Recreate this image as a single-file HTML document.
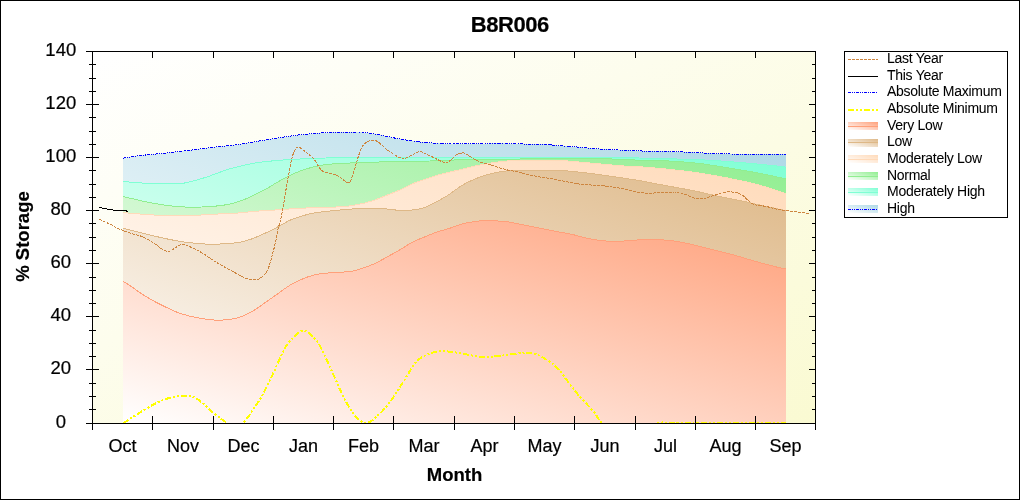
<!DOCTYPE html>
<html><head><meta charset="utf-8"><title>B8R006</title>
<style>html,body{margin:0;padding:0;background:#fff;}svg{display:block;}</style>
</head><body>
<svg width="1020" height="500" viewBox="0 0 1020 500">
<defs>
<linearGradient id="gbg" x1="0" y1="0" x2="1" y2="1"><stop offset="0" stop-color="#FFFFFF"/><stop offset="1" stop-color="#FAFAD2"/></linearGradient>
<linearGradient id="ghigh" x1="0" y1="1" x2="1" y2="0"><stop offset="0" stop-color="#FFFFFF"/><stop offset="1" stop-color="#ADD8E6"/></linearGradient>
<linearGradient id="gmodhigh" x1="0" y1="1" x2="1" y2="0"><stop offset="0" stop-color="#FFFFFF"/><stop offset="1" stop-color="#7FFFD4"/></linearGradient>
<linearGradient id="gnormal" x1="0" y1="1" x2="1" y2="0"><stop offset="0" stop-color="#FFFFFF"/><stop offset="1" stop-color="#90EE90"/></linearGradient>
<linearGradient id="gmodlow" x1="0" y1="1" x2="1" y2="0"><stop offset="0" stop-color="#FFFFFF"/><stop offset="1" stop-color="#FFDAB9"/></linearGradient>
<linearGradient id="glow" x1="0" y1="1" x2="1" y2="0"><stop offset="0" stop-color="#FFFFFF"/><stop offset="1" stop-color="#DEB887"/></linearGradient>
<linearGradient id="gverylow" x1="0" y1="1" x2="1" y2="0"><stop offset="0" stop-color="#FFFFFF"/><stop offset="1" stop-color="#FFA07A"/></linearGradient>
<clipPath id="cp"><rect x="93" y="52" width="722" height="371"/></clipPath>
</defs>
<rect x="0" y="0" width="1020" height="500" fill="#FFFFFF"/>
<rect x="93" y="52" width="722" height="371" fill="url(#gbg)"/>
<g clip-path="url(#cp)">
<path d="M123.00,158.20 C126.17,157.73 134.83,156.27 142.00,155.40 C149.17,154.53 158.00,153.87 166.00,153.00 C174.00,152.13 182.00,151.17 190.00,150.20 C198.00,149.23 206.00,148.13 214.00,147.20 C222.00,146.27 231.33,145.50 238.00,144.60 C244.67,143.70 247.33,142.90 254.00,141.80 C260.67,140.70 270.00,139.20 278.00,138.00 C286.00,136.80 293.00,135.53 302.00,134.60 C311.00,133.67 322.33,132.77 332.00,132.40 C341.67,132.03 353.67,132.25 360.00,132.40 C366.33,132.55 366.33,132.82 370.00,133.30 C373.67,133.78 377.67,134.47 382.00,135.30 C386.33,136.13 391.33,137.42 396.00,138.30 C400.67,139.18 405.17,139.88 410.00,140.60 C414.83,141.32 420.00,142.15 425.00,142.60 C430.00,143.05 435.50,143.08 440.00,143.30 C444.50,143.52 448.33,143.83 452.00,143.90 C455.67,143.97 455.67,143.77 462.00,143.70 C468.33,143.63 481.33,143.52 490.00,143.50 C498.67,143.48 507.33,143.47 514.00,143.60 C520.67,143.73 524.33,144.13 530.00,144.30 C535.67,144.47 543.67,144.40 548.00,144.60 C552.33,144.80 552.33,145.18 556.00,145.50 C559.67,145.82 566.00,146.20 570.00,146.50 C574.00,146.80 576.33,146.98 580.00,147.30 C583.67,147.62 587.33,148.03 592.00,148.40 C596.67,148.77 601.67,149.15 608.00,149.50 C614.33,149.85 623.83,150.23 630.00,150.50 C636.17,150.77 638.67,150.95 645.00,151.10 C651.33,151.25 660.50,151.20 668.00,151.40 C675.50,151.60 682.67,151.97 690.00,152.30 C697.33,152.63 705.33,153.12 712.00,153.40 C718.67,153.68 717.67,153.87 730.00,154.00 C742.33,154.13 776.67,154.17 786.00,154.20 L786.00,423.00 L123.00,423.00 Z" fill="url(#ghigh)" stroke="none" shape-rendering="crispEdges"/>
<path d="M123.00,181.40 C124.57,181.55 128.63,182.00 132.40,182.30 C136.17,182.60 140.17,183.02 145.60,183.20 C151.03,183.38 158.70,183.40 165.00,183.40 C171.30,183.40 178.23,183.73 183.40,183.20 C188.57,182.67 191.90,181.30 196.00,180.20 C200.10,179.10 204.00,177.93 208.00,176.60 C212.00,175.27 216.00,173.60 220.00,172.20 C224.00,170.80 226.33,169.70 232.00,168.20 C237.67,166.70 246.33,164.50 254.00,163.20 C261.67,161.90 270.00,161.12 278.00,160.40 C286.00,159.68 294.00,159.30 302.00,158.90 C310.00,158.50 318.00,158.17 326.00,158.00 C334.00,157.83 343.67,157.93 350.00,157.90 C356.33,157.87 355.67,157.88 364.00,157.80 C372.33,157.72 387.00,157.47 400.00,157.40 C413.00,157.33 422.00,157.43 442.00,157.40 C462.00,157.37 500.33,157.25 520.00,157.20 C539.67,157.15 546.00,157.00 560.00,157.10 C574.00,157.20 590.83,157.65 604.00,157.80 C617.17,157.95 626.83,157.80 639.00,158.00 C651.17,158.20 666.83,158.70 677.00,159.00 C687.17,159.30 693.83,159.55 700.00,159.80 C706.17,160.05 709.00,160.18 714.00,160.50 C719.00,160.82 724.00,161.22 730.00,161.70 C736.00,162.18 743.33,162.80 750.00,163.40 C756.67,164.00 764.00,164.68 770.00,165.30 C776.00,165.92 783.33,166.80 786.00,167.10 L786.00,423.00 L123.00,423.00 Z" fill="url(#gmodhigh)" stroke="none" shape-rendering="crispEdges"/>
<path d="M123.00,181.40 C124.57,181.55 128.63,182.00 132.40,182.30 C136.17,182.60 140.17,183.02 145.60,183.20 C151.03,183.38 158.70,183.40 165.00,183.40 C171.30,183.40 178.23,183.73 183.40,183.20 C188.57,182.67 191.90,181.30 196.00,180.20 C200.10,179.10 204.00,177.93 208.00,176.60 C212.00,175.27 216.00,173.60 220.00,172.20 C224.00,170.80 226.33,169.70 232.00,168.20 C237.67,166.70 246.33,164.50 254.00,163.20 C261.67,161.90 270.00,161.12 278.00,160.40 C286.00,159.68 294.00,159.30 302.00,158.90 C310.00,158.50 318.00,158.17 326.00,158.00 C334.00,157.83 343.67,157.93 350.00,157.90 C356.33,157.87 355.67,157.88 364.00,157.80 C372.33,157.72 387.00,157.47 400.00,157.40 C413.00,157.33 422.00,157.43 442.00,157.40 C462.00,157.37 500.33,157.25 520.00,157.20 C539.67,157.15 546.00,157.00 560.00,157.10 C574.00,157.20 590.83,157.65 604.00,157.80 C617.17,157.95 626.83,157.80 639.00,158.00 C651.17,158.20 666.83,158.70 677.00,159.00 C687.17,159.30 693.83,159.55 700.00,159.80 C706.17,160.05 709.00,160.18 714.00,160.50 C719.00,160.82 724.00,161.22 730.00,161.70 C736.00,162.18 743.33,162.80 750.00,163.40 C756.67,164.00 764.00,164.68 770.00,165.30 C776.00,165.92 783.33,166.80 786.00,167.10" fill="none" stroke="#7FFFD4" stroke-width="1" shape-rendering="crispEdges"/>
<path d="M123.00,196.50 C125.50,197.08 132.83,198.85 138.00,200.00 C143.17,201.15 147.33,202.30 154.00,203.40 C160.67,204.50 170.00,206.00 178.00,206.60 C186.00,207.20 194.00,207.30 202.00,207.00 C210.00,206.70 219.33,205.90 226.00,204.80 C232.67,203.70 237.33,202.03 242.00,200.40 C246.67,198.77 250.00,196.90 254.00,195.00 C258.00,193.10 262.00,191.20 266.00,189.00 C270.00,186.80 274.00,184.07 278.00,181.80 C282.00,179.53 286.00,177.30 290.00,175.40 C294.00,173.50 298.00,171.83 302.00,170.40 C306.00,168.97 310.00,167.77 314.00,166.80 C318.00,165.83 322.00,165.13 326.00,164.60 C330.00,164.07 334.00,163.87 338.00,163.60 C342.00,163.33 344.33,163.23 350.00,163.00 C355.67,162.77 363.67,162.45 372.00,162.20 C380.33,161.95 390.33,161.70 400.00,161.50 C409.67,161.30 420.00,161.28 430.00,161.00 C440.00,160.72 451.67,160.10 460.00,159.80 C468.33,159.50 470.00,159.33 480.00,159.20 C490.00,159.07 506.67,159.07 520.00,159.00 C533.33,158.93 546.00,158.83 560.00,158.80 C574.00,158.77 590.67,158.57 604.00,158.80 C617.33,159.03 629.17,159.83 640.00,160.20 C650.83,160.57 659.17,160.47 669.00,161.00 C678.83,161.53 689.17,162.25 699.00,163.40 C708.83,164.55 718.17,166.30 728.00,167.90 C737.83,169.50 748.33,171.17 758.00,173.00 C767.67,174.83 781.33,177.92 786.00,178.90 L786.00,423.00 L123.00,423.00 Z" fill="url(#gnormal)" stroke="none" shape-rendering="crispEdges"/>
<path d="M123.00,196.50 C125.50,197.08 132.83,198.85 138.00,200.00 C143.17,201.15 147.33,202.30 154.00,203.40 C160.67,204.50 170.00,206.00 178.00,206.60 C186.00,207.20 194.00,207.30 202.00,207.00 C210.00,206.70 219.33,205.90 226.00,204.80 C232.67,203.70 237.33,202.03 242.00,200.40 C246.67,198.77 250.00,196.90 254.00,195.00 C258.00,193.10 262.00,191.20 266.00,189.00 C270.00,186.80 274.00,184.07 278.00,181.80 C282.00,179.53 286.00,177.30 290.00,175.40 C294.00,173.50 298.00,171.83 302.00,170.40 C306.00,168.97 310.00,167.77 314.00,166.80 C318.00,165.83 322.00,165.13 326.00,164.60 C330.00,164.07 334.00,163.87 338.00,163.60 C342.00,163.33 344.33,163.23 350.00,163.00 C355.67,162.77 363.67,162.45 372.00,162.20 C380.33,161.95 390.33,161.70 400.00,161.50 C409.67,161.30 420.00,161.28 430.00,161.00 C440.00,160.72 451.67,160.10 460.00,159.80 C468.33,159.50 470.00,159.33 480.00,159.20 C490.00,159.07 506.67,159.07 520.00,159.00 C533.33,158.93 546.00,158.83 560.00,158.80 C574.00,158.77 590.67,158.57 604.00,158.80 C617.33,159.03 629.17,159.83 640.00,160.20 C650.83,160.57 659.17,160.47 669.00,161.00 C678.83,161.53 689.17,162.25 699.00,163.40 C708.83,164.55 718.17,166.30 728.00,167.90 C737.83,169.50 748.33,171.17 758.00,173.00 C767.67,174.83 781.33,177.92 786.00,178.90" fill="none" stroke="#90EE90" stroke-width="1" shape-rendering="crispEdges"/>
<path d="M123.00,212.60 C126.17,212.87 136.83,213.80 142.00,214.20 C147.17,214.60 149.00,214.73 154.00,215.00 C159.00,215.27 166.00,215.70 172.00,215.80 C178.00,215.90 183.00,215.87 190.00,215.60 C197.00,215.33 206.00,214.63 214.00,214.20 C222.00,213.77 231.33,213.47 238.00,213.00 C244.67,212.53 247.33,211.93 254.00,211.40 C260.67,210.87 270.00,210.33 278.00,209.80 C286.00,209.27 294.00,208.60 302.00,208.20 C310.00,207.80 319.00,207.67 326.00,207.40 C333.00,207.13 339.67,206.90 344.00,206.60 C348.33,206.30 348.67,206.17 352.00,205.60 C355.33,205.03 360.00,204.20 364.00,203.20 C368.00,202.20 372.00,201.00 376.00,199.60 C380.00,198.20 384.00,196.40 388.00,194.80 C392.00,193.20 396.00,191.80 400.00,190.00 C404.00,188.20 408.00,185.70 412.00,184.00 C416.00,182.30 420.00,181.20 424.00,179.80 C428.00,178.40 432.00,176.80 436.00,175.60 C440.00,174.40 443.67,173.67 448.00,172.60 C452.33,171.53 457.67,170.27 462.00,169.20 C466.33,168.13 470.00,167.10 474.00,166.20 C478.00,165.30 482.00,164.50 486.00,163.80 C490.00,163.10 493.67,162.50 498.00,162.00 C502.33,161.50 501.67,161.00 512.00,160.80 C522.33,160.60 550.00,160.70 560.00,160.80 C570.00,160.90 567.00,161.03 572.00,161.40 C577.00,161.77 584.00,162.47 590.00,163.00 C596.00,163.53 602.00,164.07 608.00,164.60 C614.00,165.13 620.67,165.83 626.00,166.20 C631.33,166.57 632.83,166.28 640.00,166.80 C647.17,167.32 659.17,168.27 669.00,169.30 C678.83,170.33 689.17,171.53 699.00,173.00 C708.83,174.47 718.17,176.13 728.00,178.10 C737.83,180.07 748.33,182.22 758.00,184.80 C767.67,187.38 781.33,192.13 786.00,193.60 L786.00,423.00 L123.00,423.00 Z" fill="url(#gmodlow)" stroke="none" shape-rendering="crispEdges"/>
<path d="M123.00,212.60 C126.17,212.87 136.83,213.80 142.00,214.20 C147.17,214.60 149.00,214.73 154.00,215.00 C159.00,215.27 166.00,215.70 172.00,215.80 C178.00,215.90 183.00,215.87 190.00,215.60 C197.00,215.33 206.00,214.63 214.00,214.20 C222.00,213.77 231.33,213.47 238.00,213.00 C244.67,212.53 247.33,211.93 254.00,211.40 C260.67,210.87 270.00,210.33 278.00,209.80 C286.00,209.27 294.00,208.60 302.00,208.20 C310.00,207.80 319.00,207.67 326.00,207.40 C333.00,207.13 339.67,206.90 344.00,206.60 C348.33,206.30 348.67,206.17 352.00,205.60 C355.33,205.03 360.00,204.20 364.00,203.20 C368.00,202.20 372.00,201.00 376.00,199.60 C380.00,198.20 384.00,196.40 388.00,194.80 C392.00,193.20 396.00,191.80 400.00,190.00 C404.00,188.20 408.00,185.70 412.00,184.00 C416.00,182.30 420.00,181.20 424.00,179.80 C428.00,178.40 432.00,176.80 436.00,175.60 C440.00,174.40 443.67,173.67 448.00,172.60 C452.33,171.53 457.67,170.27 462.00,169.20 C466.33,168.13 470.00,167.10 474.00,166.20 C478.00,165.30 482.00,164.50 486.00,163.80 C490.00,163.10 493.67,162.50 498.00,162.00 C502.33,161.50 501.67,161.00 512.00,160.80 C522.33,160.60 550.00,160.70 560.00,160.80 C570.00,160.90 567.00,161.03 572.00,161.40 C577.00,161.77 584.00,162.47 590.00,163.00 C596.00,163.53 602.00,164.07 608.00,164.60 C614.00,165.13 620.67,165.83 626.00,166.20 C631.33,166.57 632.83,166.28 640.00,166.80 C647.17,167.32 659.17,168.27 669.00,169.30 C678.83,170.33 689.17,171.53 699.00,173.00 C708.83,174.47 718.17,176.13 728.00,178.10 C737.83,180.07 748.33,182.22 758.00,184.80 C767.67,187.38 781.33,192.13 786.00,193.60" fill="none" stroke="#FFDAB9" stroke-width="1" shape-rendering="crispEdges"/>
<path d="M123.00,228.30 C126.17,229.08 134.83,231.27 142.00,233.00 C149.17,234.73 159.00,237.20 166.00,238.70 C173.00,240.20 178.00,241.15 184.00,242.00 C190.00,242.85 197.00,243.40 202.00,243.80 C207.00,244.20 210.00,244.45 214.00,244.40 C218.00,244.35 222.00,243.80 226.00,243.50 C230.00,243.20 233.93,243.28 238.00,242.60 C242.07,241.92 245.73,241.03 250.40,239.40 C255.07,237.77 261.40,234.90 266.00,232.80 C270.60,230.70 274.00,228.90 278.00,226.80 C282.00,224.70 286.00,222.00 290.00,220.20 C294.00,218.40 298.00,217.20 302.00,216.00 C306.00,214.80 310.00,213.77 314.00,213.00 C318.00,212.23 321.67,211.90 326.00,211.40 C330.33,210.90 334.50,210.47 340.00,210.00 C345.50,209.53 352.00,208.83 359.00,208.60 C366.00,208.37 375.57,208.33 382.00,208.60 C388.43,208.87 392.80,209.93 397.60,210.20 C402.40,210.47 406.40,210.60 410.80,210.20 C415.20,209.80 419.80,209.17 424.00,207.80 C428.20,206.43 432.00,204.10 436.00,202.00 C440.00,199.90 443.67,197.97 448.00,195.20 C452.33,192.43 457.67,188.03 462.00,185.40 C466.33,182.77 470.00,181.13 474.00,179.40 C478.00,177.67 482.00,176.20 486.00,175.00 C490.00,173.80 494.00,172.93 498.00,172.20 C502.00,171.47 506.00,170.93 510.00,170.60 C514.00,170.27 516.00,170.23 522.00,170.20 C528.00,170.17 539.40,170.33 546.00,170.40 C552.60,170.47 556.87,170.40 561.60,170.60 C566.33,170.80 569.67,171.13 574.40,171.60 C579.13,172.07 584.40,172.70 590.00,173.40 C595.60,174.10 603.00,175.10 608.00,175.80 C613.00,176.50 616.00,177.00 620.00,177.60 C624.00,178.20 628.00,178.77 632.00,179.40 C636.00,180.03 640.00,180.67 644.00,181.40 C648.00,182.13 652.00,183.03 656.00,183.80 C660.00,184.57 664.00,185.27 668.00,186.00 C672.00,186.73 675.67,187.40 680.00,188.20 C684.33,189.00 687.67,189.47 694.00,190.80 C700.33,192.13 710.00,194.50 718.00,196.20 C726.00,197.90 734.00,199.30 742.00,201.00 C750.00,202.70 758.67,204.80 766.00,206.40 C773.33,208.00 782.67,209.90 786.00,210.60 L786.00,423.00 L123.00,423.00 Z" fill="url(#glow)" stroke="none" shape-rendering="crispEdges"/>
<path d="M123.00,228.30 C126.17,229.08 134.83,231.27 142.00,233.00 C149.17,234.73 159.00,237.20 166.00,238.70 C173.00,240.20 178.00,241.15 184.00,242.00 C190.00,242.85 197.00,243.40 202.00,243.80 C207.00,244.20 210.00,244.45 214.00,244.40 C218.00,244.35 222.00,243.80 226.00,243.50 C230.00,243.20 233.93,243.28 238.00,242.60 C242.07,241.92 245.73,241.03 250.40,239.40 C255.07,237.77 261.40,234.90 266.00,232.80 C270.60,230.70 274.00,228.90 278.00,226.80 C282.00,224.70 286.00,222.00 290.00,220.20 C294.00,218.40 298.00,217.20 302.00,216.00 C306.00,214.80 310.00,213.77 314.00,213.00 C318.00,212.23 321.67,211.90 326.00,211.40 C330.33,210.90 334.50,210.47 340.00,210.00 C345.50,209.53 352.00,208.83 359.00,208.60 C366.00,208.37 375.57,208.33 382.00,208.60 C388.43,208.87 392.80,209.93 397.60,210.20 C402.40,210.47 406.40,210.60 410.80,210.20 C415.20,209.80 419.80,209.17 424.00,207.80 C428.20,206.43 432.00,204.10 436.00,202.00 C440.00,199.90 443.67,197.97 448.00,195.20 C452.33,192.43 457.67,188.03 462.00,185.40 C466.33,182.77 470.00,181.13 474.00,179.40 C478.00,177.67 482.00,176.20 486.00,175.00 C490.00,173.80 494.00,172.93 498.00,172.20 C502.00,171.47 506.00,170.93 510.00,170.60 C514.00,170.27 516.00,170.23 522.00,170.20 C528.00,170.17 539.40,170.33 546.00,170.40 C552.60,170.47 556.87,170.40 561.60,170.60 C566.33,170.80 569.67,171.13 574.40,171.60 C579.13,172.07 584.40,172.70 590.00,173.40 C595.60,174.10 603.00,175.10 608.00,175.80 C613.00,176.50 616.00,177.00 620.00,177.60 C624.00,178.20 628.00,178.77 632.00,179.40 C636.00,180.03 640.00,180.67 644.00,181.40 C648.00,182.13 652.00,183.03 656.00,183.80 C660.00,184.57 664.00,185.27 668.00,186.00 C672.00,186.73 675.67,187.40 680.00,188.20 C684.33,189.00 687.67,189.47 694.00,190.80 C700.33,192.13 710.00,194.50 718.00,196.20 C726.00,197.90 734.00,199.30 742.00,201.00 C750.00,202.70 758.67,204.80 766.00,206.40 C773.33,208.00 782.67,209.90 786.00,210.60" fill="none" stroke="#DEB887" stroke-width="1" shape-rendering="crispEdges"/>
<path d="M123.00,281.40 C124.17,282.10 126.83,283.50 130.00,285.60 C133.17,287.70 138.00,291.40 142.00,294.00 C146.00,296.60 150.00,299.00 154.00,301.20 C158.00,303.40 162.00,305.30 166.00,307.20 C170.00,309.10 174.00,311.10 178.00,312.60 C182.00,314.10 186.00,315.20 190.00,316.20 C194.00,317.20 197.33,317.93 202.00,318.60 C206.67,319.27 213.00,320.13 218.00,320.20 C223.00,320.27 228.00,319.63 232.00,319.00 C236.00,318.37 238.33,317.83 242.00,316.40 C245.67,314.97 250.00,312.80 254.00,310.40 C258.00,308.00 262.00,304.80 266.00,302.00 C270.00,299.20 274.00,296.40 278.00,293.60 C282.00,290.80 286.00,287.60 290.00,285.20 C294.00,282.80 298.00,280.90 302.00,279.20 C306.00,277.50 310.00,276.00 314.00,275.00 C318.00,274.00 321.67,273.65 326.00,273.20 C330.33,272.75 335.67,272.63 340.00,272.30 C344.33,271.97 348.00,271.95 352.00,271.20 C356.00,270.45 360.00,269.17 364.00,267.80 C368.00,266.43 372.00,264.90 376.00,263.00 C380.00,261.10 384.00,258.60 388.00,256.40 C392.00,254.20 396.00,252.13 400.00,249.80 C404.00,247.47 408.00,244.50 412.00,242.40 C416.00,240.30 420.00,238.87 424.00,237.20 C428.00,235.53 431.67,233.90 436.00,232.40 C440.33,230.90 445.67,229.60 450.00,228.20 C454.33,226.80 458.00,225.10 462.00,224.00 C466.00,222.90 470.00,222.20 474.00,221.60 C478.00,221.00 482.00,220.50 486.00,220.40 C490.00,220.30 494.00,220.70 498.00,221.00 C502.00,221.30 506.00,221.60 510.00,222.20 C514.00,222.80 518.00,223.80 522.00,224.60 C526.00,225.40 530.00,226.20 534.00,227.00 C538.00,227.80 542.00,228.60 546.00,229.40 C550.00,230.20 553.67,230.97 558.00,231.80 C562.33,232.63 567.67,233.43 572.00,234.40 C576.33,235.37 580.00,236.70 584.00,237.60 C588.00,238.50 592.00,239.20 596.00,239.80 C600.00,240.40 604.00,240.97 608.00,241.20 C612.00,241.43 616.00,241.33 620.00,241.20 C624.00,241.07 628.00,240.67 632.00,240.40 C636.00,240.13 640.00,239.73 644.00,239.60 C648.00,239.47 651.67,239.45 656.00,239.60 C660.33,239.75 665.67,240.03 670.00,240.50 C674.33,240.97 678.00,241.65 682.00,242.40 C686.00,243.15 690.00,244.07 694.00,245.00 C698.00,245.93 702.00,247.00 706.00,248.00 C710.00,249.00 714.00,250.00 718.00,251.00 C722.00,252.00 726.00,252.93 730.00,254.00 C734.00,255.07 738.00,256.23 742.00,257.40 C746.00,258.57 750.00,259.87 754.00,261.00 C758.00,262.13 762.00,263.13 766.00,264.20 C770.00,265.27 774.67,266.60 778.00,267.40 C781.33,268.20 784.67,268.73 786.00,269.00 L786.00,423.00 L123.00,423.00 Z" fill="url(#gverylow)" stroke="none" shape-rendering="crispEdges"/>
<path d="M123.00,281.40 C124.17,282.10 126.83,283.50 130.00,285.60 C133.17,287.70 138.00,291.40 142.00,294.00 C146.00,296.60 150.00,299.00 154.00,301.20 C158.00,303.40 162.00,305.30 166.00,307.20 C170.00,309.10 174.00,311.10 178.00,312.60 C182.00,314.10 186.00,315.20 190.00,316.20 C194.00,317.20 197.33,317.93 202.00,318.60 C206.67,319.27 213.00,320.13 218.00,320.20 C223.00,320.27 228.00,319.63 232.00,319.00 C236.00,318.37 238.33,317.83 242.00,316.40 C245.67,314.97 250.00,312.80 254.00,310.40 C258.00,308.00 262.00,304.80 266.00,302.00 C270.00,299.20 274.00,296.40 278.00,293.60 C282.00,290.80 286.00,287.60 290.00,285.20 C294.00,282.80 298.00,280.90 302.00,279.20 C306.00,277.50 310.00,276.00 314.00,275.00 C318.00,274.00 321.67,273.65 326.00,273.20 C330.33,272.75 335.67,272.63 340.00,272.30 C344.33,271.97 348.00,271.95 352.00,271.20 C356.00,270.45 360.00,269.17 364.00,267.80 C368.00,266.43 372.00,264.90 376.00,263.00 C380.00,261.10 384.00,258.60 388.00,256.40 C392.00,254.20 396.00,252.13 400.00,249.80 C404.00,247.47 408.00,244.50 412.00,242.40 C416.00,240.30 420.00,238.87 424.00,237.20 C428.00,235.53 431.67,233.90 436.00,232.40 C440.33,230.90 445.67,229.60 450.00,228.20 C454.33,226.80 458.00,225.10 462.00,224.00 C466.00,222.90 470.00,222.20 474.00,221.60 C478.00,221.00 482.00,220.50 486.00,220.40 C490.00,220.30 494.00,220.70 498.00,221.00 C502.00,221.30 506.00,221.60 510.00,222.20 C514.00,222.80 518.00,223.80 522.00,224.60 C526.00,225.40 530.00,226.20 534.00,227.00 C538.00,227.80 542.00,228.60 546.00,229.40 C550.00,230.20 553.67,230.97 558.00,231.80 C562.33,232.63 567.67,233.43 572.00,234.40 C576.33,235.37 580.00,236.70 584.00,237.60 C588.00,238.50 592.00,239.20 596.00,239.80 C600.00,240.40 604.00,240.97 608.00,241.20 C612.00,241.43 616.00,241.33 620.00,241.20 C624.00,241.07 628.00,240.67 632.00,240.40 C636.00,240.13 640.00,239.73 644.00,239.60 C648.00,239.47 651.67,239.45 656.00,239.60 C660.33,239.75 665.67,240.03 670.00,240.50 C674.33,240.97 678.00,241.65 682.00,242.40 C686.00,243.15 690.00,244.07 694.00,245.00 C698.00,245.93 702.00,247.00 706.00,248.00 C710.00,249.00 714.00,250.00 718.00,251.00 C722.00,252.00 726.00,252.93 730.00,254.00 C734.00,255.07 738.00,256.23 742.00,257.40 C746.00,258.57 750.00,259.87 754.00,261.00 C758.00,262.13 762.00,263.13 766.00,264.20 C770.00,265.27 774.67,266.60 778.00,267.40 C781.33,268.20 784.67,268.73 786.00,269.00" fill="none" stroke="#FFA07A" stroke-width="1" shape-rendering="crispEdges"/>
<path d="M123.00,158.20 C126.17,157.73 134.83,156.27 142.00,155.40 C149.17,154.53 158.00,153.87 166.00,153.00 C174.00,152.13 182.00,151.17 190.00,150.20 C198.00,149.23 206.00,148.13 214.00,147.20 C222.00,146.27 231.33,145.50 238.00,144.60 C244.67,143.70 247.33,142.90 254.00,141.80 C260.67,140.70 270.00,139.20 278.00,138.00 C286.00,136.80 293.00,135.53 302.00,134.60 C311.00,133.67 322.33,132.77 332.00,132.40 C341.67,132.03 353.67,132.25 360.00,132.40 C366.33,132.55 366.33,132.82 370.00,133.30 C373.67,133.78 377.67,134.47 382.00,135.30 C386.33,136.13 391.33,137.42 396.00,138.30 C400.67,139.18 405.17,139.88 410.00,140.60 C414.83,141.32 420.00,142.15 425.00,142.60 C430.00,143.05 435.50,143.08 440.00,143.30 C444.50,143.52 448.33,143.83 452.00,143.90 C455.67,143.97 455.67,143.77 462.00,143.70 C468.33,143.63 481.33,143.52 490.00,143.50 C498.67,143.48 507.33,143.47 514.00,143.60 C520.67,143.73 524.33,144.13 530.00,144.30 C535.67,144.47 543.67,144.40 548.00,144.60 C552.33,144.80 552.33,145.18 556.00,145.50 C559.67,145.82 566.00,146.20 570.00,146.50 C574.00,146.80 576.33,146.98 580.00,147.30 C583.67,147.62 587.33,148.03 592.00,148.40 C596.67,148.77 601.67,149.15 608.00,149.50 C614.33,149.85 623.83,150.23 630.00,150.50 C636.17,150.77 638.67,150.95 645.00,151.10 C651.33,151.25 660.50,151.20 668.00,151.40 C675.50,151.60 682.67,151.97 690.00,152.30 C697.33,152.63 705.33,153.12 712.00,153.40 C718.67,153.68 717.67,153.87 730.00,154.00 C742.33,154.13 776.67,154.17 786.00,154.20" fill="none" stroke="#0000FF" stroke-width="1" stroke-dasharray="3,1,1,1,1,1" shape-rendering="crispEdges"/>
<path d="M123.50,423.00 C128.15,420.12 144.05,409.78 151.40,405.70 C158.75,401.62 162.50,400.15 167.60,398.50 C172.70,396.85 177.20,395.80 182.00,395.80 C186.80,395.80 191.00,395.50 196.40,398.50 C201.80,401.50 209.30,409.72 214.40,413.80 C219.50,417.88 223.57,420.63 227.00,423.00 C230.43,425.37 232.30,428.00 235.00,428.00 C237.70,428.00 240.03,426.27 243.20,423.00 C246.37,419.73 250.70,413.23 254.00,408.40 C257.30,403.57 259.87,399.70 263.00,394.00 C266.13,388.30 269.37,381.40 272.80,374.20 C276.23,367.00 280.60,356.50 283.60,350.80 C286.60,345.10 287.50,343.37 290.80,340.00 C294.10,336.63 299.20,330.60 303.40,330.60 C307.60,330.60 312.40,335.73 316.00,340.00 C319.60,344.27 322.00,350.20 325.00,356.20 C328.00,362.20 331.00,369.40 334.00,376.00 C337.00,382.60 340.00,389.80 343.00,395.80 C346.00,401.80 349.30,407.95 352.00,412.00 C354.70,416.05 356.80,418.27 359.20,420.10 C361.60,421.93 364.00,423.15 366.40,423.00 C368.80,422.85 370.00,422.23 373.60,419.20 C377.20,416.17 383.20,410.80 388.00,404.80 C392.80,398.80 397.90,390.10 402.40,383.20 C406.90,376.30 411.40,367.90 415.00,363.40 C418.60,358.90 421.00,358.00 424.00,356.20 C427.00,354.40 429.87,353.43 433.00,352.60 C436.13,351.77 438.47,351.13 442.80,351.20 C447.13,351.27 452.40,352.02 459.00,353.00 C465.60,353.98 475.50,356.63 482.40,357.10 C489.30,357.57 493.80,356.48 500.40,355.80 C507.00,355.12 516.60,353.38 522.00,353.00 C527.40,352.62 529.20,352.67 532.80,353.50 C536.40,354.33 539.40,355.45 543.60,358.00 C547.80,360.55 552.60,363.10 558.00,368.80 C563.40,374.50 570.00,385.00 576.00,392.20 C582.00,399.40 589.50,406.87 594.00,412.00 C598.50,417.13 597.00,419.67 603.00,423.00 C609.00,426.33 620.67,432.00 630.00,432.00 C639.33,432.00 650.67,424.50 659.00,423.00 C667.33,421.50 658.83,423.00 680.00,423.00 C701.17,423.00 768.33,423.00 786.00,423.00" fill="none" stroke="#FFFF00" stroke-width="2" stroke-dasharray="6,2,2,2,2,2" shape-rendering="crispEdges"/>
<path d="M99.20,219.30 C101.17,220.18 107.87,223.08 111.00,224.60 C114.13,226.12 114.83,227.00 118.00,228.40 C121.17,229.80 126.00,231.63 130.00,233.00 C134.00,234.37 138.00,234.90 142.00,236.60 C146.00,238.30 150.60,241.10 154.00,243.20 C157.40,245.30 160.00,247.83 162.40,249.20 C164.80,250.57 166.60,251.40 168.40,251.40 C170.20,251.40 171.60,250.07 173.20,249.20 C174.80,248.33 176.30,247.03 178.00,246.20 C179.70,245.37 181.40,244.10 183.40,244.20 C185.40,244.30 186.90,245.37 190.00,246.80 C193.10,248.23 198.40,250.70 202.00,252.80 C205.60,254.90 208.27,257.28 211.60,259.40 C214.93,261.52 217.93,263.18 222.00,265.50 C226.07,267.82 231.57,271.02 236.00,273.30 C240.43,275.58 244.70,278.30 248.60,279.20 C252.50,280.10 256.25,280.23 259.40,278.70 C262.55,277.17 265.40,273.78 267.50,270.00 C269.60,266.22 270.55,261.10 272.00,256.00 C273.45,250.90 275.20,243.87 276.20,239.40 C277.20,234.93 277.30,232.30 278.00,229.20 C278.70,226.10 279.60,224.20 280.40,220.80 C281.20,217.40 282.10,212.60 282.80,208.80 C283.50,205.00 284.00,201.60 284.60,198.00 C285.20,194.40 285.77,190.87 286.40,187.20 C287.03,183.53 287.37,181.23 288.40,176.00 C289.43,170.77 291.03,160.60 292.60,155.80 C294.17,151.00 295.40,147.65 297.80,147.20 C300.20,146.75 304.27,151.07 307.00,153.10 C309.73,155.13 311.80,156.55 314.20,159.40 C316.60,162.25 318.70,167.87 321.40,170.20 C324.10,172.53 327.70,172.50 330.40,173.40 C333.10,174.30 334.75,174.10 337.60,175.60 C340.45,177.10 345.10,182.10 347.50,182.40 C349.90,182.70 350.35,181.23 352.00,177.40 C353.65,173.57 355.60,164.65 357.40,159.40 C359.20,154.15 360.70,149.05 362.80,145.90 C364.90,142.75 367.60,141.25 370.00,140.50 C372.40,139.75 374.20,139.75 377.20,141.40 C380.20,143.05 384.40,147.77 388.00,150.40 C391.60,153.03 395.80,155.93 398.80,157.20 C401.80,158.47 402.70,158.90 406.00,158.00 C409.30,157.10 415.30,152.47 418.60,151.80 C421.90,151.13 423.40,153.10 425.80,154.00 C428.20,154.90 429.87,155.77 433.00,157.20 C436.13,158.63 441.77,162.03 444.60,162.60 C447.43,163.17 448.50,161.47 450.00,160.60 C451.50,159.73 452.40,158.47 453.60,157.40 C454.80,156.33 455.80,154.93 457.20,154.20 C458.60,153.47 460.60,153.10 462.00,153.00 C463.40,152.90 463.60,152.60 465.60,153.60 C467.60,154.60 471.40,157.53 474.00,159.00 C476.60,160.47 478.60,161.50 481.20,162.40 C483.80,163.30 486.80,163.57 489.60,164.40 C492.40,165.23 494.60,166.37 498.00,167.40 C501.40,168.43 506.80,169.90 510.00,170.60 C513.20,171.30 514.20,170.93 517.20,171.60 C520.20,172.27 524.20,173.70 528.00,174.60 C531.80,175.50 536.00,176.30 540.00,177.00 C544.00,177.70 547.00,177.90 552.00,178.80 C557.00,179.70 564.67,181.43 570.00,182.40 C575.33,183.37 579.07,184.10 584.00,184.60 C588.93,185.10 594.60,184.97 599.60,185.40 C604.60,185.83 609.60,186.53 614.00,187.20 C618.40,187.87 622.00,188.55 626.00,189.40 C630.00,190.25 634.00,191.67 638.00,192.30 C642.00,192.93 646.00,193.18 650.00,193.20 C654.00,193.22 658.00,192.43 662.00,192.40 C666.00,192.37 670.67,192.87 674.00,193.00 C677.33,193.13 678.67,192.37 682.00,193.20 C685.33,194.03 690.40,197.10 694.00,198.00 C697.60,198.90 701.00,198.80 703.60,198.60 C706.20,198.40 707.60,197.40 709.60,196.80 C711.60,196.20 713.20,195.75 715.60,195.00 C718.00,194.25 720.80,192.75 724.00,192.30 C727.20,191.85 731.80,191.85 734.80,192.30 C737.80,192.75 739.80,193.65 742.00,195.00 C744.20,196.35 746.00,198.80 748.00,200.40 C750.00,202.00 751.00,203.60 754.00,204.60 C757.00,205.60 762.40,205.67 766.00,206.40 C769.60,207.13 772.27,208.30 775.60,209.00 C778.93,209.70 782.27,210.10 786.00,210.60 C789.73,211.10 794.17,211.52 798.00,212.00 C801.83,212.48 807.17,213.25 809.00,213.50" fill="none" stroke="#CD853F" stroke-width="1" stroke-dasharray="3,1" shape-rendering="crispEdges"/>
<path d="M99.20,207.40 C100.67,207.70 105.47,208.73 108.00,209.20 C110.53,209.67 111.73,210.00 114.40,210.20 C117.07,210.40 121.73,210.17 124.00,210.40 C126.27,210.63 127.33,211.40 128.00,211.60" fill="none" stroke="#000000" stroke-width="1" shape-rendering="crispEdges"/>
</g>
<path d="M86,51.5 H815.5 M86,423.5 H815.5 M92.5,51 V430 M815.5,51 V430 M86,423.5 H99 M809,423.5 H815 M89,409.5 H96 M812,409.5 H815 M89,396.5 H96 M812,396.5 H815 M89,383.5 H96 M812,383.5 H815 M86,369.5 H99 M809,369.5 H815 M89,356.5 H96 M812,356.5 H815 M89,343.5 H96 M812,343.5 H815 M89,330.5 H96 M812,330.5 H815 M86,316.5 H99 M809,316.5 H815 M89,303.5 H96 M812,303.5 H815 M89,290.5 H96 M812,290.5 H815 M89,277.5 H96 M812,277.5 H815 M86,263.5 H99 M809,263.5 H815 M89,250.5 H96 M812,250.5 H815 M89,237.5 H96 M812,237.5 H815 M89,223.5 H96 M812,223.5 H815 M86,210.5 H99 M809,210.5 H815 M89,197.5 H96 M812,197.5 H815 M89,184.5 H96 M812,184.5 H815 M89,170.5 H96 M812,170.5 H815 M86,157.5 H99 M809,157.5 H815 M89,144.5 H96 M812,144.5 H815 M89,131.5 H96 M812,131.5 H815 M89,117.5 H96 M812,117.5 H815 M86,104.5 H99 M809,104.5 H815 M89,91.5 H96 M812,91.5 H815 M89,78.5 H96 M812,78.5 H815 M89,64.5 H96 M812,64.5 H815 M86,51.5 H99 M809,51.5 H815 M152.5,416 V430 M152.5,52 V58 M213.5,416 V430 M213.5,52 V58 M273.5,416 V430 M273.5,52 V58 M333.5,416 V430 M333.5,52 V58 M393.5,416 V430 M393.5,52 V58 M454.5,416 V430 M454.5,52 V58 M514.5,416 V430 M514.5,52 V58 M574.5,416 V430 M574.5,52 V58 M635.5,416 V430 M635.5,52 V58 M695.5,416 V430 M695.5,52 V58 M755.5,416 V430 M755.5,52 V58" stroke="#000" stroke-width="1" fill="none"/>
<text x="60.8" y="427.5" font-family="Liberation Sans, Arial, sans-serif" stroke="#000" stroke-width="0.2" font-size="18.5" text-anchor="middle" fill="#000">0</text>
<text x="60.8" y="374.4" font-family="Liberation Sans, Arial, sans-serif" stroke="#000" stroke-width="0.2" font-size="18.5" text-anchor="middle" fill="#000">20</text>
<text x="60.8" y="321.4" font-family="Liberation Sans, Arial, sans-serif" stroke="#000" stroke-width="0.2" font-size="18.5" text-anchor="middle" fill="#000">40</text>
<text x="60.8" y="268.3" font-family="Liberation Sans, Arial, sans-serif" stroke="#000" stroke-width="0.2" font-size="18.5" text-anchor="middle" fill="#000">60</text>
<text x="60.8" y="215.2" font-family="Liberation Sans, Arial, sans-serif" stroke="#000" stroke-width="0.2" font-size="18.5" text-anchor="middle" fill="#000">80</text>
<text x="60.8" y="162.1" font-family="Liberation Sans, Arial, sans-serif" stroke="#000" stroke-width="0.2" font-size="18.5" text-anchor="middle" fill="#000">100</text>
<text x="60.8" y="109.1" font-family="Liberation Sans, Arial, sans-serif" stroke="#000" stroke-width="0.2" font-size="18.5" text-anchor="middle" fill="#000">120</text>
<text x="60.8" y="56.0" font-family="Liberation Sans, Arial, sans-serif" stroke="#000" stroke-width="0.2" font-size="18.5" text-anchor="middle" fill="#000">140</text>
<text x="122.5" y="452" font-family="Liberation Sans, Arial, sans-serif" stroke="#000" stroke-width="0.2" font-size="18" text-anchor="middle" fill="#000">Oct</text>
<text x="183.0" y="452" font-family="Liberation Sans, Arial, sans-serif" stroke="#000" stroke-width="0.2" font-size="18" text-anchor="middle" fill="#000">Nov</text>
<text x="243.5" y="452" font-family="Liberation Sans, Arial, sans-serif" stroke="#000" stroke-width="0.2" font-size="18" text-anchor="middle" fill="#000">Dec</text>
<text x="303.5" y="452" font-family="Liberation Sans, Arial, sans-serif" stroke="#000" stroke-width="0.2" font-size="18" text-anchor="middle" fill="#000">Jan</text>
<text x="363.5" y="452" font-family="Liberation Sans, Arial, sans-serif" stroke="#000" stroke-width="0.2" font-size="18" text-anchor="middle" fill="#000">Feb</text>
<text x="424.0" y="452" font-family="Liberation Sans, Arial, sans-serif" stroke="#000" stroke-width="0.2" font-size="18" text-anchor="middle" fill="#000">Mar</text>
<text x="484.5" y="452" font-family="Liberation Sans, Arial, sans-serif" stroke="#000" stroke-width="0.2" font-size="18" text-anchor="middle" fill="#000">Apr</text>
<text x="544.5" y="452" font-family="Liberation Sans, Arial, sans-serif" stroke="#000" stroke-width="0.2" font-size="18" text-anchor="middle" fill="#000">May</text>
<text x="605.0" y="452" font-family="Liberation Sans, Arial, sans-serif" stroke="#000" stroke-width="0.2" font-size="18" text-anchor="middle" fill="#000">Jun</text>
<text x="665.5" y="452" font-family="Liberation Sans, Arial, sans-serif" stroke="#000" stroke-width="0.2" font-size="18" text-anchor="middle" fill="#000">Jul</text>
<text x="725.5" y="452" font-family="Liberation Sans, Arial, sans-serif" stroke="#000" stroke-width="0.2" font-size="18" text-anchor="middle" fill="#000">Aug</text>
<text x="785.5" y="452" font-family="Liberation Sans, Arial, sans-serif" stroke="#000" stroke-width="0.2" font-size="18" text-anchor="middle" fill="#000">Sep</text>
<text x="509.8" y="32" font-family="Liberation Sans, Arial, sans-serif" stroke="#000" stroke-width="0.2" font-size="22" font-weight="bold" letter-spacing="-0.45" text-anchor="middle" fill="#000">B8R006</text>
<text x="454.5" y="481" font-family="Liberation Sans, Arial, sans-serif" stroke="#000" stroke-width="0.2" font-size="18.5" font-weight="bold" text-anchor="middle" fill="#000">Month</text>
<text transform="translate(28.5,236.5) rotate(-90)" x="0" y="0" font-family="Liberation Sans, Arial, sans-serif" stroke="#000" stroke-width="0.2" font-size="18.5" font-weight="bold" text-anchor="middle" fill="#000">% Storage</text>
<rect x="844.5" y="51.5" width="163" height="166" fill="#FFFFFF" stroke="#000" stroke-width="1"/>
<path d="M848,59.5 H878" stroke="#CD853F" stroke-width="1" stroke-dasharray="3,1" fill="none" shape-rendering="crispEdges"/>
<text x="887" y="63.0" font-family="Liberation Sans, Arial, sans-serif" stroke="#000" stroke-width="0.05" font-size="14" letter-spacing="-0.28" fill="#000">Last Year</text>
<path d="M848,76.5 H878" stroke="#000000" stroke-width="1" fill="none" shape-rendering="crispEdges"/>
<text x="887" y="80.0" font-family="Liberation Sans, Arial, sans-serif" stroke="#000" stroke-width="0.05" font-size="14" letter-spacing="-0.28" fill="#000">This Year</text>
<path d="M848,92.5 H878" stroke="#0000FF" stroke-width="1" stroke-dasharray="3,1,1,1,1,1" fill="none" shape-rendering="crispEdges"/>
<text x="887" y="96.0" font-family="Liberation Sans, Arial, sans-serif" stroke="#000" stroke-width="0.05" font-size="14" letter-spacing="-0.28" fill="#000">Absolute Maximum</text>
<path d="M848,110.0 H878" stroke="#FFFF00" stroke-width="2" stroke-dasharray="6,2,2,2,2,2" fill="none" shape-rendering="crispEdges"/>
<text x="887" y="113.0" font-family="Liberation Sans, Arial, sans-serif" stroke="#000" stroke-width="0.05" font-size="14" letter-spacing="-0.28" fill="#000">Absolute Minimum</text>
<rect x="848" y="122" width="30" height="8" fill="url(#gverylow)"/>
<path d="M848,126.5 H878" stroke="#FFA07A" stroke-width="1" fill="none" shape-rendering="crispEdges"/>
<text x="887" y="130.0" font-family="Liberation Sans, Arial, sans-serif" stroke="#000" stroke-width="0.05" font-size="14" letter-spacing="-0.28" fill="#000">Very Low</text>
<rect x="848" y="139" width="30" height="8" fill="url(#glow)"/>
<path d="M848,142.5 H878" stroke="#DEB887" stroke-width="1" fill="none" shape-rendering="crispEdges"/>
<text x="887" y="146.0" font-family="Liberation Sans, Arial, sans-serif" stroke="#000" stroke-width="0.05" font-size="14" letter-spacing="-0.28" fill="#000">Low</text>
<rect x="848" y="155" width="30" height="8" fill="url(#gmodlow)"/>
<path d="M848,159.5 H878" stroke="#FFDAB9" stroke-width="1" fill="none" shape-rendering="crispEdges"/>
<text x="887" y="163.0" font-family="Liberation Sans, Arial, sans-serif" stroke="#000" stroke-width="0.05" font-size="14" letter-spacing="-0.28" fill="#000">Moderately Low</text>
<rect x="848" y="172" width="30" height="8" fill="url(#gnormal)"/>
<path d="M848,176.5 H878" stroke="#90EE90" stroke-width="1" fill="none" shape-rendering="crispEdges"/>
<text x="887" y="180.0" font-family="Liberation Sans, Arial, sans-serif" stroke="#000" stroke-width="0.05" font-size="14" letter-spacing="-0.28" fill="#000">Normal</text>
<rect x="848" y="188" width="30" height="8" fill="url(#gmodhigh)"/>
<path d="M848,192.5 H878" stroke="#7FFFD4" stroke-width="1" fill="none" shape-rendering="crispEdges"/>
<text x="887" y="196.0" font-family="Liberation Sans, Arial, sans-serif" stroke="#000" stroke-width="0.05" font-size="14" letter-spacing="-0.28" fill="#000">Moderately High</text>
<rect x="848" y="205" width="30" height="8" fill="url(#ghigh)"/>
<path d="M848,209.5 H878" stroke="#0000FF" stroke-width="1" stroke-dasharray="3,1,1,1,1,1" fill="none" shape-rendering="crispEdges"/>
<text x="887" y="213.0" font-family="Liberation Sans, Arial, sans-serif" stroke="#000" stroke-width="0.05" font-size="14" letter-spacing="-0.28" fill="#000">High</text>
<rect x="0.5" y="0.5" width="1019" height="499" fill="none" stroke="#000" stroke-width="1"/>
</svg>
</body></html>
